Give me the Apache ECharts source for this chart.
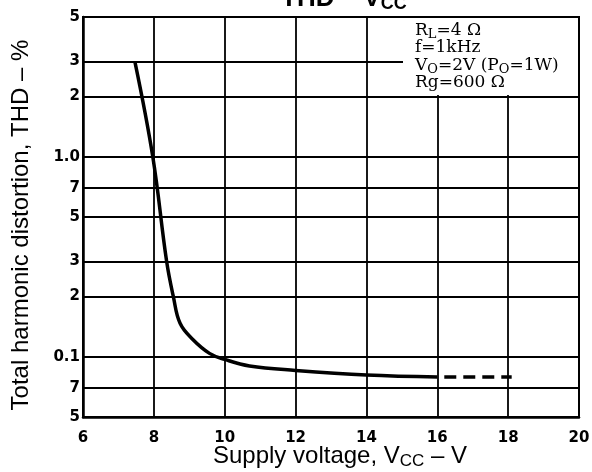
<!DOCTYPE html>
<html>
<head>
<meta charset="utf-8">
<script src="https://cdn.jsdelivr.net/npm/echarts@6/dist/echarts.min.js"></script>
<style>html,body{margin:0;padding:0;background:#fff}#c{width:592px;height:472px}</style>
</head>
<body>
<div id="c"></div>
<script>
var vccSolid = [7.47, 7.97, 8.36, 8.55, 8.74, 9.1, 9.57, 10.0, 10.7, 12.0, 14.0, 16.0];
var thdSolid = [2.96, 1.0, 0.3, 0.2, 0.147, 0.122, 0.104, 0.097, 0.090, 0.0855, 0.0811, 0.0793];
var vccDashed = [16.0, 18.1];
var thdDashed = [0.0793, 0.0793];
var yTicks = [0.05, 0.07, 0.1, 0.2, 0.3, 0.5, 0.7, 1, 2, 3, 5];
var yTickLabels = ['5', '7', '0.1', '2', '3', '5', '7', '1.0', '2', '3', '5'];
var notes = ['R{s|L}=4 Ω', 'f=1kHz', 'V{s|O}=2V (P{s|O}=1W)', 'Rg=600 Ω'];

function pairs(xs, ys) { return xs.map(function (x, i) { return [x, ys[i]]; }); }

var chart = echarts.init(document.getElementById('c'), null, {renderer: 'canvas'});
var labelFont = {fontFamily: 'DejaVu Sans', fontWeight: 'bold', fontSize: 15, color: '#000'};
chart.setOption({
  animation: false,
  backgroundColor: '#fff',
  title: {
    text: 'THD – V{s|CC}',
    left: 276, top: -20,
    textStyle: {fontFamily: 'Liberation Sans', fontWeight: 'bold', fontSize: 26, color: '#000',
      rich: {s: {fontFamily: 'Liberation Sans', fontWeight: 'bold', fontSize: 18, color: '#000', padding: [10, 0, 0, 0]}}}
  },
  grid: {left: 83, right: 13, top: 17, bottom: 55, show: true, borderColor: '#000', borderWidth: 2,
    backgroundColor: 'transparent', containLabel: false, outerBoundsMode: 'none'},
  xAxis: {
    type: 'value', min: 6, max: 20, interval: 2,
    name: 'Supply voltage, V{s|CC} – V', nameLocation: 'middle', nameGap: 26, nameMoveOverlap: false,
    nameTextStyle: {fontFamily: 'Liberation Sans', fontSize: 24, color: '#000', padding: [0, 0, 0, 18],
      rich: {s: {fontFamily: 'Liberation Sans', fontSize: 17, color: '#000', padding: [10, 0, 0, 0]}}},
    axisLine: {show: true, lineStyle: {color: '#000', width: 2.5}},
    axisTick: {show: false},
    axisLabel: Object.assign({margin: 14}, labelFont),
    splitLine: {show: true, lineStyle: {color: '#000', width: 1.8}}
  },
  yAxis: {
    type: 'log', min: 0.05, max: 5, logBase: 10,
    name: 'Total harmonic distortion, THD – %', nameLocation: 'middle', nameGap: 50, nameMoveOverlap: false,
    nameTextStyle: {fontFamily: 'Liberation Sans', fontSize: 24, color: '#000', padding: [0, 16, 0, 0]},
    axisLine: {show: true, lineStyle: {color: '#000', width: 2.5}},
    axisTick: {show: false, customValues: yTicks},
    axisLabel: Object.assign({margin: 3, customValues: yTicks, formatter: function (v) {
      var best = 0, bd = 1e9;
      yTicks.forEach(function (t, i) { var d = Math.abs(Math.log10(t) - Math.log10(v)); if (d < bd) { bd = d; best = i; } });
      return yTickLabels[best];
    }}, labelFont),
    splitLine: {show: true, lineStyle: {color: '#000', width: 1.8}}
  },
  graphic: [
    {type: 'rect', z: 100, shape: {x: 403, y: 18, width: 175, height: 77}, style: {fill: '#fff', stroke: null}},
    {type: 'text', z: 101, x: 415, y: 22, style: {
      text: notes.join('\n'),
      fontFamily: 'DejaVu Serif', fontSize: 17, lineHeight: 17.3, fill: '#000',
      rich: {s: {fontFamily: 'DejaVu Serif', fontSize: 13, lineHeight: 17.3, fill: '#000', padding: [8, 0, 0, 0]}}
    }}
  ],
  series: [
    {type: 'line', data: pairs(vccSolid, thdSolid), smooth: 0.4, showSymbol: false,
      lineStyle: {color: '#000', width: 3.5}, z: 10},
    {type: 'line', data: pairs(vccDashed, thdDashed), showSymbol: false,
      lineStyle: {color: '#000', width: 3.5, type: [12, 7], dashOffset: 12}, z: 10}
  ]
});
</script>
</body>
</html>
